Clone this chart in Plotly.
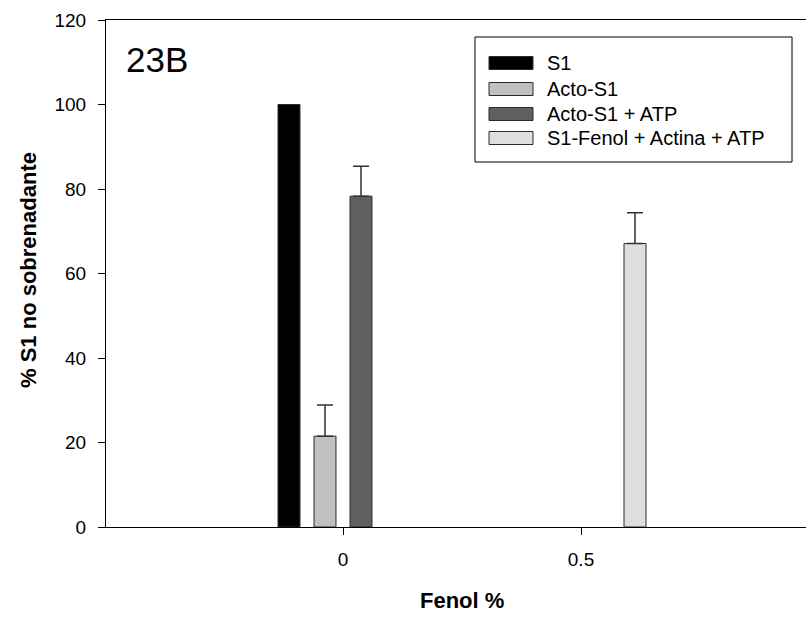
import plotly.graph_objects as go

# ---- data ----
fenol = [0, 0.5]
series_names = ["S1", "Acto-S1", "Acto-S1 + ATP", "S1-Fenol + Actina + ATP"]
s1_vals = [100, None]
acto_vals = [21.5, None]
acto_atp_vals = [78.3, None]
fenol_vals = [None, 67.1]
s1_err = [0, 0]
acto_err = [7.4, 0]
acto_atp_err = [7.1, 0]
fenol_err = [0, 7.3]
y_ticks = [0, 20, 40, 60, 80, 100, 120]
x_ticks = [0, 0.5]
x_tick_labels = ["0", "0.5"]

colors = ["#000000", "#c0c0c0", "#606060", "#dedede"]
values = [s1_vals, acto_vals, acto_atp_vals, fenol_vals]
errors = [s1_err, acto_err, acto_atp_err, fenol_err]
show_err = [False, True, True, True]

FONT = "Liberation Sans, Arial, sans-serif"
W, H = 806, 617
L, R, T, B = 106, 0, 20, 90
PW, PH = W - L - R, H - T - B


def px(x):
    return (x - L) / PW


def py(y):
    return (H - B - y) / PH


fig = go.Figure()
for name, vals, errs, col, se in zip(series_names, values, errors, colors, show_err):
    fig.add_trace(go.Bar(
        x=fenol, y=vals, name=name,
        marker=dict(color=col, line=dict(color="#2a2a2a", width=1)),
        error_y=dict(type="data", array=errs, arrayminus=[0, 0], symmetric=False,
                     visible=se, color="#333333", thickness=1.5, width=8),
        showlegend=False,
    ))

fig.update_layout(
    width=W, height=H,
    margin=dict(l=L, r=R, t=T, b=B),
    paper_bgcolor="white", plot_bgcolor="white",
    barmode="group", bargap=0.395, bargroupgap=0.39,
    font=dict(family=FONT, color="black"),
    showlegend=False,
)
fig.update_xaxes(
    range=[-0.4979, 0.9727], tickvals=x_ticks, ticktext=x_tick_labels,
    showline=True, linecolor="black", linewidth=1, mirror=True,
    ticks="outside", ticklen=7, tickcolor="black", tickwidth=1,
    showgrid=False, zeroline=False,
    tickfont=dict(size=19, family=FONT), ticklabelstandoff=8,
)
fig.update_yaxes(
    range=[0, 120], tickvals=y_ticks,
    showline=True, linecolor="black", linewidth=1,
    ticks="outside", ticklen=7, tickcolor="black", tickwidth=1,
    showgrid=False, zeroline=False,
    tickfont=dict(size=19, family=FONT), ticklabelstandoff=8,
)

# axis titles
fig.add_annotation(x=px(462), y=py(600), xref="paper", yref="paper",
                   text="<b>Fenol %</b>", showarrow=False,
                   font=dict(size=22, family=FONT), xanchor="center", yanchor="middle")
fig.add_annotation(x=px(28), y=py(270), xref="paper", yref="paper",
                   text="<b>% S1 no sobrenadante</b>", showarrow=False, textangle=-90,
                   font=dict(size=22, family=FONT), xanchor="center", yanchor="middle")

# panel label
fig.add_annotation(x=px(124), y=py(60), xref="paper", yref="paper",
                   text="23B", showarrow=False,
                   font=dict(size=35, family=FONT), xanchor="left", yanchor="middle")

# legend (manual, to match wide swatches)
fig.add_shape(type="rect", xref="paper", yref="paper",
              x0=px(475), x1=px(792), y0=py(162), y1=py(37),
              line=dict(color="black", width=1), fillcolor="white")
row_y = [63, 89, 114, 138]
for name, col, ry in zip(series_names, colors, row_y):
    fig.add_shape(type="rect", xref="paper", yref="paper",
                  x0=px(489), x1=px(533), y0=py(ry + 6.5), y1=py(ry - 6.5),
                  line=dict(color="#2a2a2a", width=1), fillcolor=col)
    fig.add_annotation(x=px(545), y=py(ry), xref="paper", yref="paper",
                       text=name, showarrow=False,
                       font=dict(size=20, family=FONT), xanchor="left", yanchor="middle")

fig.write_html("out.html")
